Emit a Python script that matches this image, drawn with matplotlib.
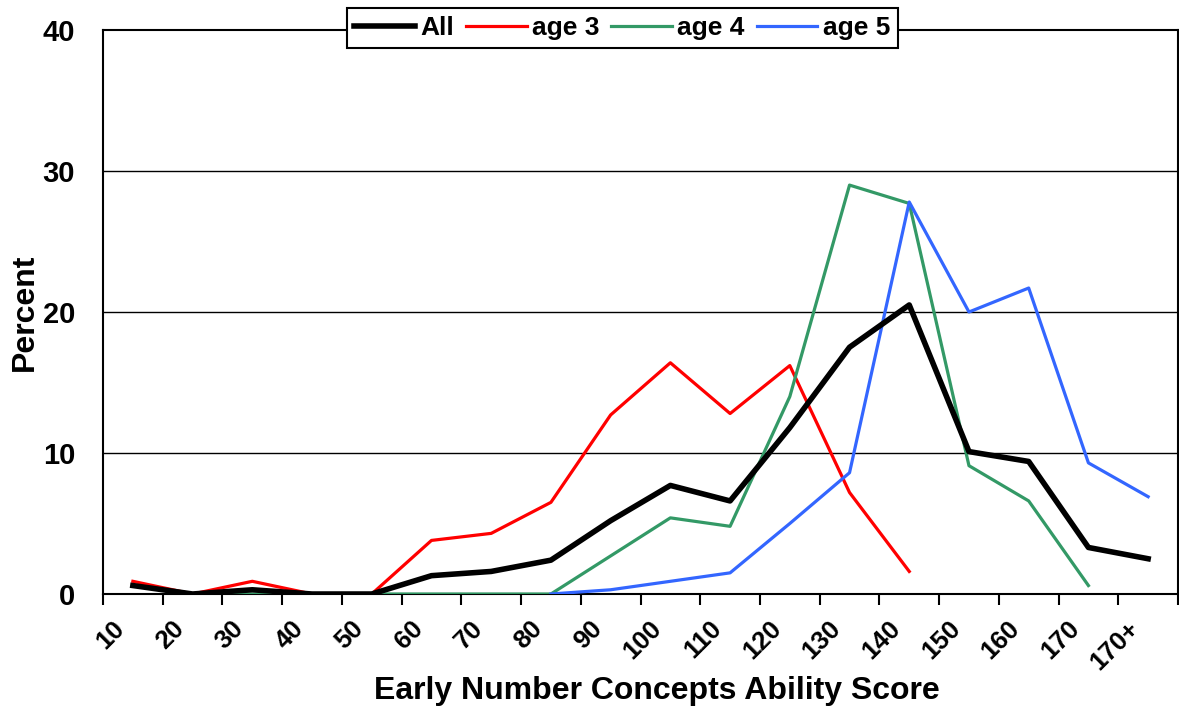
import numpy as np
import matplotlib
matplotlib.use("Agg")
import matplotlib.pyplot as plt
from matplotlib.transforms import ScaledTranslation

categories = ["10", "20", "30", "40", "50", "60", "70", "80", "90", "100",
              "110", "120", "130", "140", "150", "160", "170", "170+"]
nan = np.nan
all_vals = [0.6, 0.0, 0.3, 0.0, 0.0, 1.3, 1.6, 2.4, 5.2, 7.7, 6.6, 11.8,
            17.5, 20.5, 10.1, 9.4, 3.3, 2.5]
age3 = [0.9, 0.0, 0.9, 0.0, 0.0, 3.8, 4.3, 6.5, 12.7, 16.4, 12.8, 16.2,
        7.2, 1.6, nan, nan, nan, nan]
age4 = [0.6, 0.0, 0.0, 0.0, 0.0, 0.0, 0.0, 0.0, 2.7, 5.4, 4.8, 14.0,
        29.0, 27.7, 9.1, 6.6, 0.6, nan]
age5 = [nan, nan, nan, nan, nan, nan, nan, 0.0, 0.3, 0.9, 1.5, 5.0,
        8.6, 27.8, 20.0, 21.7, 9.3, 6.9]
y_ticks = [0, 10, 20, 30, 40]

plt.rcParams['font.family'] = ['Liberation Sans', 'DejaVu Sans']
plt.rcParams['font.weight'] = 'bold'

fig = plt.figure(figsize=(11.79, 7.11), dpi=100)
ax = fig.add_axes([103/1179, 1 - 594/711, 1075/1179, 564/711])

x = np.arange(len(categories))
ax.plot(x, all_vals, color='black', lw=4.0, label='All', zorder=5)
ax.plot(x, age3, color='#FF0000', lw=2.3, label='age 3', zorder=4)
ax.plot(x, age4, color='#339966', lw=2.3, label='age 4', zorder=4)
ax.plot(x, age5, color='#3366FF', lw=2.3, label='age 5', zorder=4)

ax.set_xlim(-0.5, len(categories) - 0.5)
ax.set_ylim(0, 40)
ax.set_yticks(y_ticks)
ax.set_yticklabels([str(v) for v in y_ticks], fontsize=21, fontweight='bold')
ax.tick_params(axis='y', length=0, pad=20)
for v in y_ticks[1:-1]:
    ax.axhline(v, color='black', lw=1.0, zorder=1)

ax.set_xticks(np.arange(-0.5, len(categories)), minor=False)
ax.set_xticklabels([''] * (len(categories) + 1))
ax.tick_params(axis='x', which='major', length=8, width=1.5, direction='out')
ax.set_xticks(x, minor=True)
ax.set_xticklabels(categories, minor=True, rotation=45, ha='right', va='top',
                   rotation_mode='anchor', fontsize=18.5, fontweight='bold')
ax.tick_params(axis='x', which='minor', length=0, pad=24)
off = ScaledTranslation(-0.21, 0.11, fig.dpi_scale_trans)
for lab in ax.get_xticklabels(minor=True):
    lab.set_transform(lab.get_transform() + off)

for s in ax.spines.values():
    s.set_linewidth(1.5)
    s.set_color('black')

ax.set_xlabel('Early Number Concepts Ability Score', fontsize=23, fontweight='bold')
ax.xaxis.set_label_coords((657 - 103) / 1075, (594 - 676) / 564)
ax.set_ylabel('Percent', fontsize=23, fontweight='bold', labelpad=2)

leg = ax.legend(loc='center', bbox_to_anchor=(0.483, 1.0035), ncol=4, frameon=True,
                fancybox=False, edgecolor='black', fontsize=19, handlelength=2.3,
                handletextpad=0.2, columnspacing=0.45, borderpad=0.3, framealpha=1)
leg.get_frame().set_linewidth(1.5)
for t in leg.get_texts():
    t.set_fontweight('bold')

fig.savefig('out.png', dpi=100)
